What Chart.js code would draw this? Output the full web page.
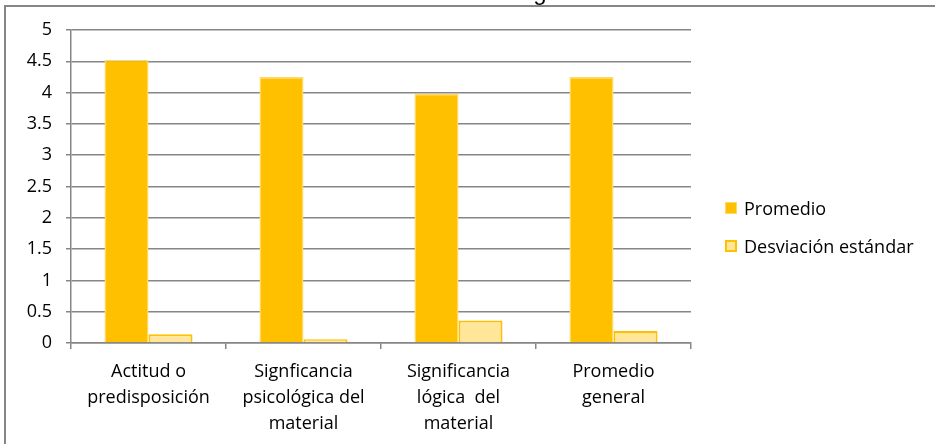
<!DOCTYPE html>
<html>
<head>
<meta charset="utf-8">
<script src="https://cdn.jsdelivr.net/npm/chart.js@4.4.1/dist/chart.umd.min.js"></script>
<style>
  html, body { margin: 0; padding: 0; background: #fff; overflow: hidden; }
  #wrap { position: relative; width: 935px; height: 444px; }
  #frame { position: absolute; left: 4px; top: 5px; width: 1000px; height: 500px; border: 2px solid #868686; box-sizing: border-box; }
  #chart { position: absolute; left: 0; top: 0; }
  #legend { position: absolute; left: 725px; top: 195px; font: 18px "Open Sans", sans-serif; color: #000; }
  .lg-item { display: flex; align-items: center; height: 26px; margin-bottom: 12px; }
  .lg-box { width: 12px; height: 12px; box-sizing: border-box; margin-right: 7px; }
</style>
</head>
<body>
<div id="wrap">
  <div id="frame"></div>
  <canvas id="chart" width="935" height="444"></canvas>
  <div id="legend"></div>
</div>
<script>
// ─── Data ───
const categories = [
  ['Actitud o', 'predisposición'],
  ['Signficancia', 'psicológica del', 'material'],
  ['Significancia', 'lógica  del', 'material'],
  ['Promedio', 'general']
];
const seriesNames = ['Promedio', 'Desviación estándar'];
const promedio = [4.52, 4.25, 3.98, 4.25];
const desviacion = [0.14, 0.06, 0.36, 0.19];
const yMin = 0, yMax = 5, yStep = 0.5;
const titleFragment = 'g';

// ─── Styles ───
const GRID = '#868686';
const FONT = { family: '"Open Sans", sans-serif', size: 18 };

// partial title, clipped by the top edge like in the source picture
const clippedTitle = {
  id: 'clippedTitle',
  afterDraw(chart) {
    const ctx = chart.ctx;
    ctx.save();
    ctx.font = '24px "Liberation Sans", Arial, sans-serif';
    ctx.fillStyle = '#000';
    ctx.textAlign = 'center';
    ctx.textBaseline = 'alphabetic';
    ctx.fillText(titleFragment, 540, 0);
    ctx.restore();
  }
};

const chart = new Chart(document.getElementById('chart'), {
  type: 'bar',
  data: {
    labels: categories,
    datasets: [
      { label: seriesNames[0], data: promedio, backgroundColor: '#FFC000', borderColor: '#FFD966', borderWidth: 1.5 },
      { label: seriesNames[1], data: desviacion, backgroundColor: '#FFE699', borderColor: '#FFC000', borderWidth: 2 }
    ]
  },
  options: {
    responsive: false,
    animation: false,
    events: [],
    layout: { padding: { left: 0, top: 30, right: 244, bottom: 0 } },
    datasets: { bar: { categoryPercentage: 0.568, barPercentage: 1 } },
    plugins: { legend: { display: false }, tooltip: { enabled: false }, title: { display: false } },
    scales: {
      x: {
        grid: { display: true, drawOnChartArea: false, drawTicks: true, tickLength: 6, color: GRID, lineWidth: 1.5 },
        border: { display: true, color: GRID, width: 1.5 },
        ticks: { color: '#000', font: { ...FONT, lineHeight: 1.45 }, padding: 10, maxRotation: 0, autoSkip: false },
        afterFit(scale) { scale.height = 101; }
      },
      y: {
        min: yMin, max: yMax,
        grid: { color: GRID, lineWidth: 1.5, tickLength: 5 },
        border: { display: true, color: GRID, width: 1.5 },
        ticks: { stepSize: yStep, color: '#000', font: FONT, padding: 14, callback: v => String(v) },
        afterFit(scale) { scale.width = 71; }
      }
    }
  },
  plugins: [clippedTitle]
});

// ─── Legend ───
const legend = document.getElementById('legend');
chart.data.datasets.forEach(ds => {
  const item = document.createElement('div');
  item.className = 'lg-item';
  item.innerHTML = `<span class="lg-box" style="background:${ds.backgroundColor};border:${ds.borderWidth >= 2 ? 2 : 1}px solid ${ds.borderColor}"></span><span>${ds.label}</span>`;
  legend.appendChild(item);
});
</script>
</body>
</html>
